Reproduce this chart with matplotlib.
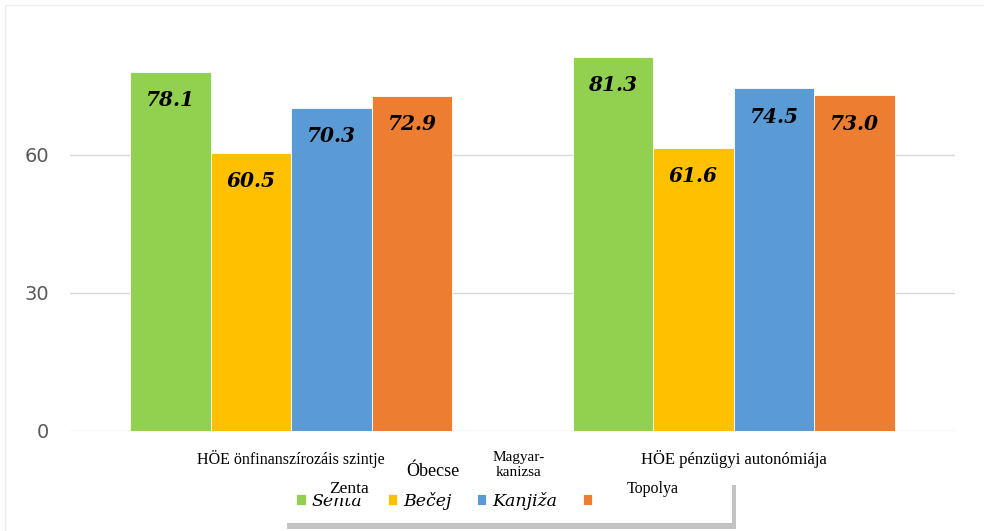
import numpy as np
import matplotlib.pyplot as plt
from matplotlib.patches import Rectangle

categories = ['HÖE önfinanszírozáis szintje', 'HÖE pénzügyi autonómiája']
series = ['Senta', 'Bečej', 'Kanjiža', ' ' * 22]
values = [
    [78.1, 81.3],   # Senta
    [60.5, 61.6],   # Bečej
    [70.3, 74.5],   # Kanjiža
    [72.9, 73.0],   # Topolya
]
colors = ['#92D050', '#FFC000', '#5B9BD5', '#ED7D31']

fig = plt.figure(figsize=(9.84, 5.31), dpi=100)
ax = fig.add_axes([70 / 984, 1 - 431 / 531, 885 / 984, 414 / 531])

# faint chart-area border
fig.patches.append(Rectangle((5 / 984, -0.1), 1.2, (531 - 5) / 531 + 0.1,
                             transform=fig.transFigure, fill=False,
                             edgecolor='#eeeeee', linewidth=1))

x = np.arange(len(categories))
w = 0.182
handles = []
for i, (vals, c) in enumerate(zip(values, colors)):
    pos = x + (i - 1.5) * w
    bars = ax.bar(pos, vals, width=w, color=c, edgecolor='white', linewidth=0.6, zorder=2)
    handles.append(bars)
    for b, v in zip(bars, vals):
        ax.annotate(f'{v:.1f}', (b.get_x() + b.get_width() / 2, v),
                    xytext=(0, -20.5), textcoords='offset points',
                    ha='center', va='center', fontsize=14.5,
                    family='DejaVu Serif', weight='bold', style='italic',
                    color='black', zorder=3)

ax.set_xlim(-0.5, 1.5)
ax.set_ylim(0, 90)
ax.set_yticks([0, 30, 60])
ax.yaxis.grid(True, color='#d9d9d9', linewidth=1)
ax.set_axisbelow(True)
for s in ax.spines.values():
    s.set_visible(False)
ax.tick_params(axis='y', length=0, labelsize=14, labelcolor='#595959', pad=15)
ax.tick_params(axis='x', length=0, pad=14)
ax.set_xticks(x)
ticklabels = ax.set_xticklabels(categories, family='Liberation Serif', fontsize=11.5, color='black')
ticklabels[1].set_fontsize(12)

leg = fig.legend(handles, series, loc='center left',
                 bbox_to_anchor=(283 / 984, 1 - 501 / 531),
                 ncol=4, frameon=True,
                 shadow={'color': '#aaaaaa', 'alpha': 0.7, 'ox': 3, 'oy': -4},
                 fancybox=False, handlelength=0.55, handleheight=0.6,
                 handletextpad=0.35, columnspacing=1.45, borderpad=0.75,
                 borderaxespad=0,
                 prop={'family': 'DejaVu Serif', 'style': 'italic', 'size': 12.5})
leg.get_frame().set_edgecolor('white')
leg.get_frame().set_linewidth(0)

# Hungarian place names written over the legend and axis
overlay = dict(family='Liberation Serif', color='black', ha='center', va='center', zorder=10)
fig.text(349 / 984, 1 - 489 / 531, 'Zenta', fontsize=12.5,
         bbox=dict(facecolor='white', edgecolor='none', pad=0.5), **overlay)
fig.text(433 / 984, 1 - 472 / 531, 'Óbecse', fontsize=13, **overlay)
fig.text(519 / 984, 1 - 465 / 531, 'Magyar-\nkanizsa', fontsize=11, linespacing=1.2,
         **overlay)
fig.text(653 / 984, 1 - 489 / 531, 'Topolya', fontsize=11.5, **overlay)

fig.savefig('out.png', dpi=100)
